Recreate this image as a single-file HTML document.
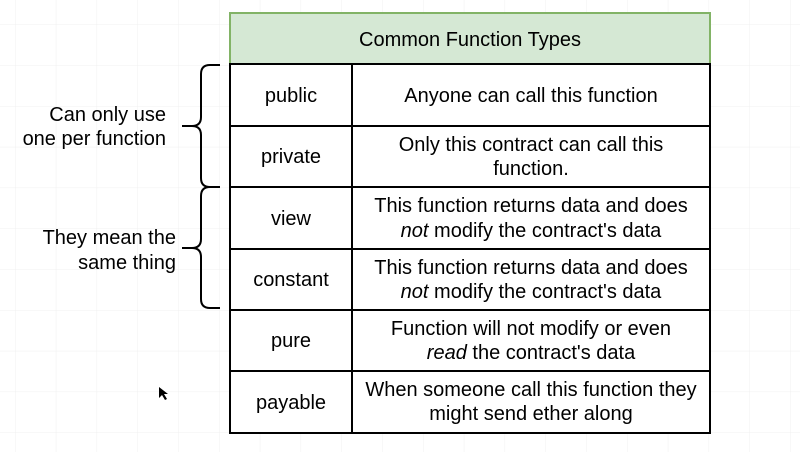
<!DOCTYPE html>
<html><head><meta charset="utf-8"><style>
html,body{margin:0;padding:0;}
body{width:800px;height:452px;overflow:hidden;background:#fff;font-family:"Liberation Sans",Arial,sans-serif;}
</style></head><body>
<svg width="800" height="452" xmlns="http://www.w3.org/2000/svg" font-family="Liberation Sans, Arial, sans-serif" font-size="20" fill="#000">
<defs>
<pattern id="g" x="15" y="24.4" width="40.8" height="40.8" patternUnits="userSpaceOnUse">
<path d="M0 0H40.8M0 0V40.8" stroke="#f0f0f0" stroke-width="1" fill="none"/>
</pattern>
</defs>
<rect width="800" height="452" fill="url(#g)"/>
<rect x="230" y="13" width="480" height="51" fill="#d5e8d4" stroke="#82b366" stroke-width="2"/>
<text x="470" y="46" text-anchor="middle">Common Function Types</text>
<g stroke="#000" stroke-width="2" fill="#fff">
<rect x="230" y="64" width="480" height="369"/>
</g>
<g stroke="#000" stroke-width="2">
<line x1="352" y1="64" x2="352" y2="433"/>
<line x1="230" y1="126" x2="710" y2="126"/>
<line x1="230" y1="187" x2="710" y2="187"/>
<line x1="230" y1="249" x2="710" y2="249"/>
<line x1="230" y1="310" x2="710" y2="310"/>
<line x1="230" y1="371" x2="710" y2="371"/>
</g>
<g text-anchor="middle">
<text x="291" y="102">public</text>
<text x="291" y="163">private</text>
<text x="291" y="225">view</text>
<text x="291" y="286">constant</text>
<text x="291" y="347">pure</text>
<text x="291" y="409">payable</text>
<text x="531" y="102">Anyone can call this function</text>
<text x="531" y="151">Only this contract can call this</text>
<text x="531" y="175">function.</text>
<text x="531" y="212">This function returns data and does</text>
<text x="531" y="237"><tspan font-style="italic">not</tspan> modify the contract's data</text>
<text x="531" y="274">This function returns data and does</text>
<text x="531" y="298"><tspan font-style="italic">not</tspan> modify the contract's data</text>
<text x="531" y="335">Function will not modify or even</text>
<text x="531" y="359"><tspan font-style="italic">read</tspan> the contract's data</text>
<text x="531" y="396">When someone call this function they</text>
<text x="531" y="420">might send ether along</text>
</g>
<g fill="none" stroke="#000" stroke-width="2">
<path d="M220 65H210Q201 65 201 74V117Q201 126 192 126H182M192 126Q201 126 201 135V178Q201 187 210 187H220"/>
<path d="M220 187H210Q201 187 201 196V239Q201 248 192 248H182M192 248Q201 248 201 257V299Q201 308 210 308H220"/>
</g>
<g text-anchor="end">
<text x="166" y="121">Can only use</text>
<text x="166" y="145">one per function</text>
<text x="176" y="244">They mean the</text>
<text x="176" y="269">same thing</text>
</g>
<path d="M159 387L159 398L162 395L165 400L167 399L164 394L168 394Z" fill="#000"/>
</svg>
</body></html>
